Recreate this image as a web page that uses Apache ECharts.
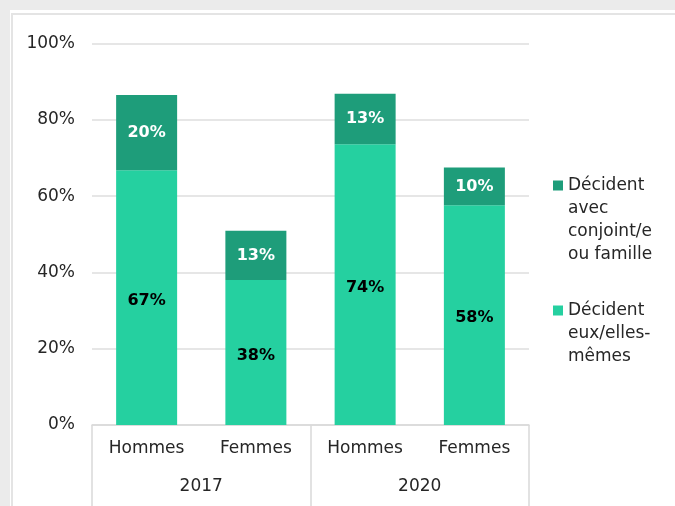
<!DOCTYPE html>
<html>
<head>
<meta charset="utf-8">
<title>Décision</title>
<script src="https://cdn.jsdelivr.net/npm/echarts@6/dist/echarts.min.js"></script>
<style>
    html, body { margin: 0; padding: 0; background: #ebebeb; }
    #panel { position: absolute; left: 10px; top: 10px; width: 665px; height: 496px; background: #fff; }
    #panel::after { content: ''; position: absolute; left: 1px; top: 3px; right: 0; bottom: 0;
        border-left: 2px solid #e4e4e4; border-top: 2px solid #e4e4e4; }
    #chart { position: absolute; left: 0; top: 0; width: 675px; height: 506px; }
</style>
</head>
<body>
<div id="panel"></div>
<div id="chart"></div>
<script>
// catégories et valeurs (en %)
var categories = ['Hommes', 'Femmes', 'Hommes', 'Femmes'];
var years = ['2017', '2020'];
var euxMemes = [66.8, 38.0, 73.6, 57.6];
var avecConjoint = [19.7, 12.9, 13.2, 9.9];
var yTicks = [0, 20, 40, 60, 80, 100];

var FONT = 'DejaVu Sans';
var LIGHT = '#25d0a0';
var DARK = '#1e9d7a';
var NAME_EUX = 'Décident\neux/elles-\nmêmes';
var NAME_AVEC = 'Décident\navec\nconjoint/e\nou famille';

function legendText(name) {
    var key = name === NAME_AVEC ? 'a' : 'b';
    var lines = name.split('\n');
    var out = [];
    for (var i = 0; i < lines.length; i++) {
        out.push((i === 0 ? '{' + key + '| }' : '{s| }') + '{t|' + lines[i] + '}');
    }
    return out.join('\n');
}

var myChart = echarts.init(document.getElementById('chart'));
var option = {
    animation: false,
    textStyle: { fontFamily: FONT },
    grid: { left: 92, right: 146, top: 43.5, bottom: 81, containLabel: false },
    legend: {
        orient: 'vertical',
        left: 548,
        top: 177,
        padding: 0,
        itemGap: 39,
        itemWidth: 0,
        itemHeight: 0,
        selectedMode: false,
        data: [NAME_AVEC, NAME_EUX],
        formatter: legendText,
        textStyle: {
            fontFamily: FONT,
            color: '#262626',
            rich: {
                a: { width: 10, height: 10, backgroundColor: DARK },
                b: { width: 10, height: 10, backgroundColor: LIGHT },
                s: { width: 10 },
                t: { fontSize: 17, lineHeight: 23, color: '#262626', fontFamily: FONT, padding: [0, 0, 0, 5] }
            }
        }
    },
    xAxis: [{
        type: 'category',
        data: categories,
        axisLine: { lineStyle: { color: '#d9d9d9', width: 1.5 } },
        axisTick: { show: false },
        axisLabel: { color: '#262626', fontSize: 17, margin: 15 }
    }, {
        type: 'category',
        data: years,
        position: 'bottom',
        axisLine: { show: false },
        axisTick: { show: true, length: 82, lineStyle: { color: '#d9d9d9', width: 1.5 } },
        axisLabel: { color: '#262626', fontSize: 17, margin: 53 }
    }],
    yAxis: {
        type: 'value',
        min: yTicks[0],
        max: yTicks[yTicks.length - 1],
        interval: 20,
        axisLine: { show: false },
        axisTick: { show: false },
        splitLine: { lineStyle: { color: '#dedede', width: 1.5 } },
        axisLabel: { formatter: '{value}%', color: '#262626', fontSize: 17, margin: 17 }
    },
    series: [{
        name: NAME_EUX,
        type: 'bar',
        stack: 'total',
        barWidth: 61,
        data: euxMemes,
        itemStyle: { color: LIGHT },
        label: {
            show: true, position: 'inside', offset: [0, 3],
            formatter: function (p) { return Math.round(p.value) + '%'; },
            color: '#000', fontWeight: 'bold', fontSize: 16, fontFamily: FONT
        }
    }, {
        name: NAME_AVEC,
        type: 'bar',
        stack: 'total',
        barWidth: 61,
        data: avecConjoint,
        itemStyle: { color: DARK },
        label: {
            show: true, position: 'inside',
            formatter: function (p) { return Math.round(p.value) + '%'; },
            color: '#fff', fontWeight: 'bold', fontSize: 16, fontFamily: FONT
        }
    }]
};
myChart.setOption(option);
</script>
</body>
</html>
